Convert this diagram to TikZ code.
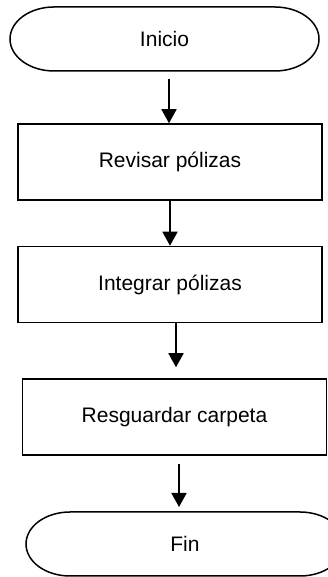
\documentclass[tikz,border=0pt]{standalone}
\usepackage{fontspec}
\setmainfont{Liberation Sans}
\usetikzlibrary{arrows.meta}

\begin{document}
\begin{tikzpicture}
[x=1pt,y=1pt,
  linedecorate/.style={-{Triangle[length=14pt,width=15pt]},line width=1.7pt},%
  nodedecorate/.style={shape=rectangle,draw,line width=1.5pt,
    minimum width=304pt,minimum height=76pt,font=\fontsize{21}{25}\selectfont},%
  terminaldecorate/.style={shape=rectangle,outer sep=0pt,
    minimum height=64pt,font=\fontsize{21}{25}\selectfont}]
%%
\useasboundingbox (0,0) rectangle (327,577);
%%
%% Macros
%% Terminal outline with elliptic ends
\def\terminal#1{%
  \draw[line width=1.5pt] ([xshift=44pt]#1.north west) -- ([xshift=-44pt]#1.north east)
    arc[start angle=90,end angle=-90,x radius=44pt,y radius=32pt]
    -- ([xshift=44pt]#1.south west)
    arc[start angle=270,end angle=90,x radius=44pt,y radius=32pt] -- cycle;
}
%%
%% Start and end
\node (inicio) at (164.5,538) [terminaldecorate,minimum width=309pt] {Inicio};
\node (fin) at (185,33) [terminaldecorate,minimum width=318pt] {Fin};
\terminal{inicio}
\terminal{fin}
%%
%% Process boxes
\foreach \nodename/\x/\y/\nodetext in {
  revisar/170/415/Revisar pólizas,
  integrar/170/292.5/Integrar pólizas,
  resguardar/174.5/160/Resguardar carpeta}
{
  \node (\nodename) at (\x,\y) [nodedecorate] {\nodetext};
}
%%
%% Arrows
\draw[linedecorate] ([xshift=4.5pt,yshift=-8pt]inicio.south) -- ([xshift=-1pt]revisar.north);
\draw[linedecorate] (revisar.south) -- (integrar.north);
\draw[linedecorate] ([xshift=6pt]integrar.south) -- ([xshift=1.5pt,yshift=11pt]resguardar.north);
\draw[linedecorate] ([xshift=4.5pt,yshift=-8pt]resguardar.south) -- ([xshift=-6pt,yshift=5pt]fin.north);
\end{tikzpicture}
\end{document}
